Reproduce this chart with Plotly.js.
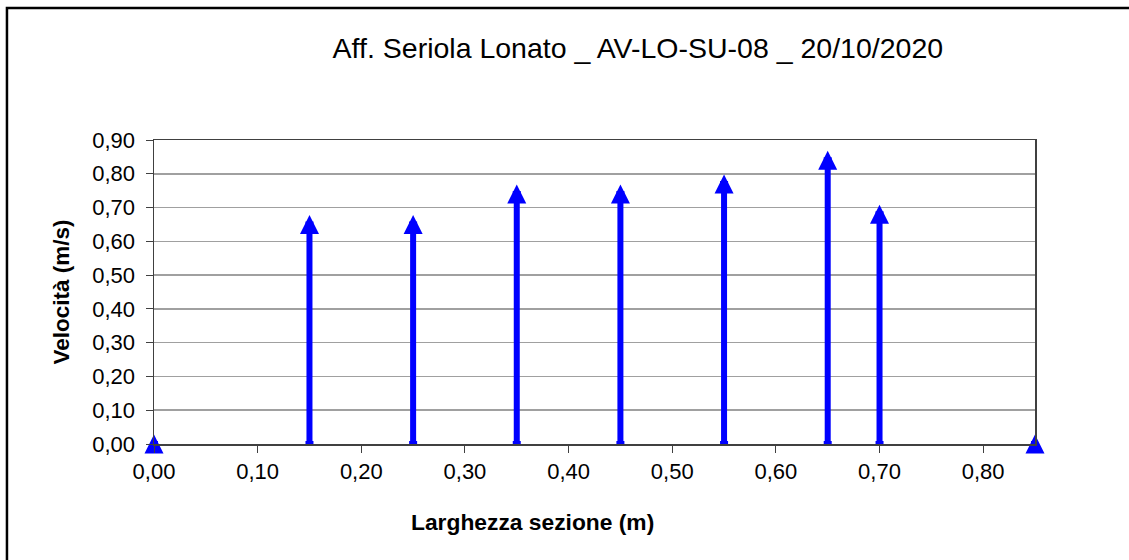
<!DOCTYPE html>
<html>
<head>
<meta charset="utf-8">
<script src="https://cdn.plot.ly/plotly-3.0.1.min.js"></script>
<style>html,body{margin:0;padding:0;background:#fff;overflow:hidden;}#chart{width:1129px;height:560px;}</style>
</head>
<body>
<div id="chart"></div>
<script>
const chartTitle = "Aff. Seriola Lonato _ AV-LO-SU-08 _ 20/10/2020";
const xTitle = "Larghezza sezione (m)";
const yTitle = "Velocità (m/s)";
const distance = [0.00, 0.15, 0.25, 0.35, 0.45, 0.55, 0.65, 0.70, 0.85];
const velocity = [0.00, 0.65, 0.65, 0.74, 0.74, 0.77, 0.84, 0.68, 0.00];
const zeros = distance.map(() => 0);

const blue = "#0000ff";
const font = "Liberation Sans, Arial, sans-serif";

const trace = {
  type: "scatter",
  mode: "markers",
  x: distance,
  y: velocity,
  marker: {symbol: "arrow-down", angle: 180, standoff: 9.5, size: 19, color: blue,
           line: {width: 0}},
  error_y: {type: "data", symmetric: false, array: zeros, arrayminus: velocity,
            color: blue, thickness: 6, width: 4},
  cliponaxis: false,
  showlegend: false,
  hoverinfo: "x+y"
};

const layout = {
  width: 1129, height: 560,
  margin: {l: 154, r: 94, t: 140, b: 116},
  paper_bgcolor: "#ffffff", plot_bgcolor: "#ffffff",
  separators: ",.",
  font: {family: font, color: "#000000", size: 22},
  title: {text: chartTitle, font: {family: font, size: 28.5, color: "#000"},
          x: 0.565, xanchor: "center", xref: "container", y: 0.915, yanchor: "middle", yref: "container"},
  xaxis: {range: [0, 0.85], dtick: 0.1, tick0: 0, tickformat: ".2f",
          showgrid: false, zeroline: false, showline: true, linecolor: "#404040", linewidth: 1.5,
          mirror: true, ticks: "outside", ticklen: 7, tickcolor: "#404040",
          tickfont: {family: font, size: 22}},
  yaxis: {range: [0, 0.9], dtick: 0.1, tick0: 0, tickformat: ".2f",
          showgrid: true, gridcolor: "#a0a0a0", gridwidth: 1.5, zeroline: false,
          showline: true, linecolor: "#404040", linewidth: 1.5, mirror: true,
          ticks: "outside", ticklen: 7, tickcolor: "#404040", ticklabelstandoff: 6,
          tickfont: {family: font, size: 22},
          title: {text: yTitle, font: {family: font, size: 22.5, weight: "bold"}, standoff: 16}},
  annotations: [
    {text: "<b>" + xTitle + "</b>", xref: "paper", yref: "paper", x: 0.43, y: -0.255,
     xanchor: "center", yanchor: "middle", showarrow: false, font: {family: font, size: 22.8}}
  ],
  shapes: [
    {type: "rect", xref: "paper", yref: "paper", x0: -0.1669, x1: 1.12, y0: -0.45, y1: 1.434,
     line: {color: "#000000", width: 2.5}, fillcolor: "rgba(0,0,0,0)", layer: "above"}
  ]
};

Plotly.newPlot("chart", [trace], layout, {displayModeBar: false, staticPlot: true});
</script>
</body>
</html>
